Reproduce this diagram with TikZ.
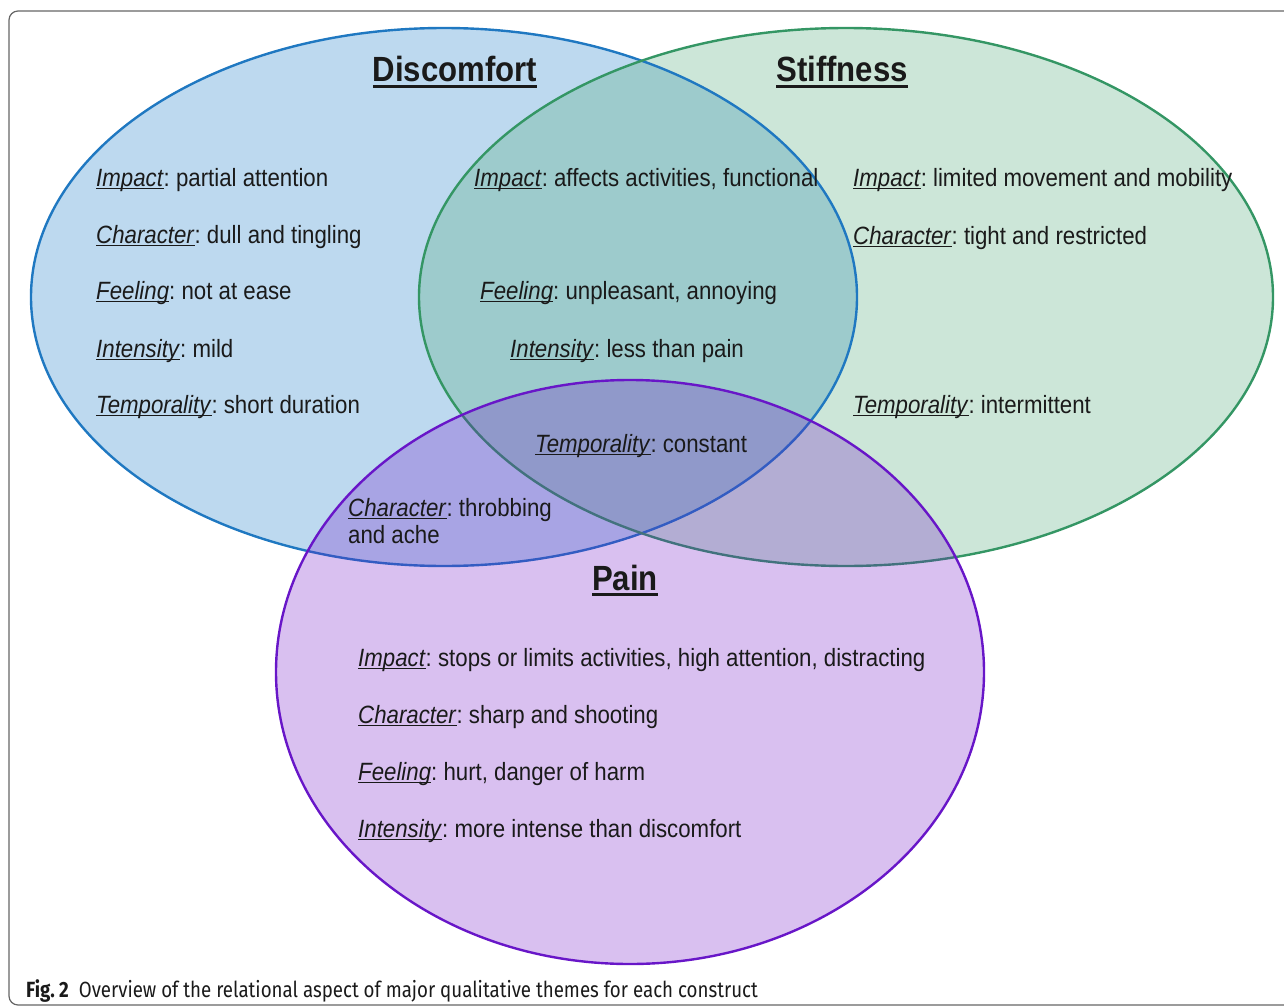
\documentclass[tikz,border=0pt]{standalone}
\usepackage{fontspec}
\setmainfont[FakeStretch=0.89]{Liberation Sans}
\newfontfamily\capfont[FakeStretch=0.85]{Fira Sans}
\definecolor{dfill}{RGB}{189,217,239}
\definecolor{sfill}{RGB}{79,169,121}
\definecolor{pfill}{RGB}{109,13,197}
\definecolor{dline}{RGB}{31,120,193}
\definecolor{sline}{RGB}{52,150,100}
\definecolor{pline}{RGB}{104,22,200}
\definecolor{ink}{RGB}{26,26,26}
% underlined italic label and underlined bold title
\newcommand{\lbl}[1]{\setbox0=\hbox{\textit{#1}}\rlap{\rule[-3pt]{\wd0}{1.5pt}}\box0}
\newcommand{\ttl}[1]{\setbox0=\hbox{\bfseries #1}\rlap{\rule[-6pt]{\wd0}{2.8pt}}\box0}
\frenchspacing
\begin{document}
\begin{tikzpicture}[
        x=1pt, y=-1pt,
        item/.style={anchor=base west, inner sep=0pt, text=ink, font=\fontsize{25}{27}\selectfont},
        title/.style={anchor=base, inner sep=0pt, text=ink, font=\fontsize{35}{40}\selectfont\bfseries},
        outline/.style={line width=2.4pt}
    ]
        \useasboundingbox (0,0) rectangle (1284,1006);
        \draw[gray!80!black, line width=1.2pt, rounded corners=9pt] (9,11) rectangle (1300,1005);

        % the three sets
        \fill[dfill] (444,297) ellipse [x radius=413pt, y radius=269pt];
        \fill[sfill, fill opacity=0.29] (846,297) ellipse [x radius=427pt, y radius=269pt];
        \draw[outline, dline] (444,297) ellipse [x radius=413pt, y radius=269pt];
        \draw[outline, sline] (846,297) ellipse [x radius=427pt, y radius=269pt];
        \fill[pfill, fill opacity=0.26] (630,672) ellipse [x radius=354pt, y radius=292pt];
        \draw[outline, pline] (630,672) ellipse [x radius=354pt, y radius=292pt];

        % titles
        \node[title] (discomfort) at (455,82) {\ttl{Discomfort}};
        \node[title] (stiffness) at (842,82) {\ttl{Stiffness}};
        \node[title] (pain) at (625,590) {\ttl{Pain}};

        % discomfort only
        \node[item] (dimpact) at (96,186) {\lbl{Impact}: partial attention};
        \node[item] (dchar) at (96,243) {\lbl{Character}: dull and tingling};
        \node[item] (dfeel) at (96,299) {\lbl{Feeling}: not at ease};
        \node[item] (dint) at (96,357) {\lbl{Intensity}: mild};
        \node[item] (dtemp) at (96,413) {\lbl{Temporality}: short duration};

        % shared by discomfort and stiffness
        \node[item] (dsimpact) at (474,186) {\lbl{Impact}: affects activities, functional};
        \node[item] (dsfeel) at (480,299) {\lbl{Feeling}: unpleasant, annoying};
        \node[item] (dsint) at (510,357) {\lbl{Intensity}: less than pain};
        \node[item] (dsptemp) at (535,452) {\lbl{Temporality}: constant};

        % stiffness only
        \node[item] (simpact) at (853,186) {\lbl{Impact}: limited movement and mobility};
        \node[item] (schar) at (853,244) {\lbl{Character}: tight and restricted};
        \node[item] (stemp) at (853,413) {\lbl{Temporality}: intermittent};

        % shared by discomfort and pain
        \node[item, anchor=west, align=left] (dpchar) at (348,521) {\lbl{Character}: throbbing\\and ache};

        % pain only
        \node[item] (pimpact) at (358,666) {\lbl{Impact}: stops or limits activities, high attention, distracting};
        \node[item] (pchar) at (358,723) {\lbl{Character}: sharp and shooting};
        \node[item] (pfeel) at (358,780) {\lbl{Feeling}: hurt, danger of harm};
        \node[item] (pint) at (358,837) {\lbl{Intensity}: more intense than discomfort};

        % caption
        \node[anchor=base west, inner sep=0pt, text=ink, font=\capfont\fontsize{22}{26}\selectfont] (caption) at (26,997)
            {\textbf{Fig. 2}\hspace{0.45em}Overview of the relational aspect of major qualitative themes for each construct};
    \end{tikzpicture}
\end{document}
